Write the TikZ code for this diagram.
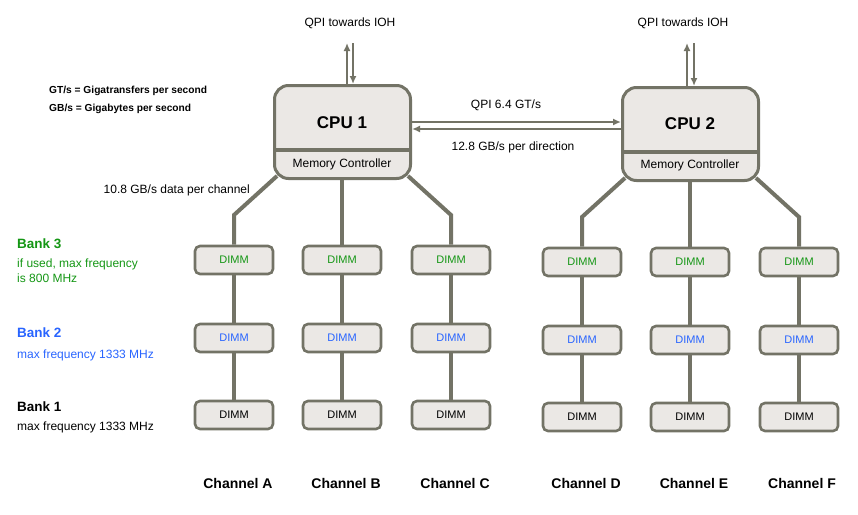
\documentclass[tikz,border=0pt]{standalone}
\usepackage{fontspec}
\setmainfont{Liberation Sans}
\usepackage{tikz}
\usetikzlibrary{arrows.meta, backgrounds, calc, positioning}

\definecolor{boxline}{RGB}{115,115,102}
\definecolor{boxfill}{RGB}{235,232,229}
\definecolor{bankgreen}{RGB}{20,150,20}
\definecolor{bankblue}{RGB}{40,100,255}

\tikzset{
	cpubox/.style={draw=boxline, fill=boxfill, line width=3pt, rounded corners=14pt,
		minimum width=136pt, minimum height=93pt, inner sep=0pt},
	dimmbox/.style={draw=boxline, fill=boxfill, line width=2.6pt, rounded corners=5pt,
		minimum width=78pt, minimum height=28pt, inner sep=0pt, font=\fontsize{11}{12}\selectfont},
	chan/.style={draw=boxline, line width=4pt},
	qpi/.style={draw=boxline, line width=2pt, -{Latex[length=8pt,width=7pt]}},
	txt/.style={inner sep=0pt, font=\fontsize{12}{14}\selectfont},
	chanlbl/.style={inner sep=0pt, font=\fontsize{14}{15}\selectfont\bfseries},
	banklbl/.style={inner sep=0pt, anchor=west, font=\fontsize{13.5}{15}\selectfont\bfseries},
	bankinfo/.style={inner sep=0pt, anchor=west, align=left, font=\fontsize{12}{15}\selectfont},
	legend/.style={inner sep=0pt, anchor=west, font=\fontsize{10.2}{11}\selectfont\bfseries},
}

\begin{document}
\begin{tikzpicture}[x=1pt, y=-1pt]
		\useasboundingbox (0,0) rectangle (858,514);

		% legend
		\node[legend] (leggt) at (49,91) {GT/s = Gigatransfers per second};
		\node[legend] (leggb) at (49,109) {GB/s = Gigabytes per second};

		% the two cpus
		\node[cpubox] (cpu1) at (342.5,132) {};
		\node[cpubox] (cpu2) at (690.5,134) {};
		\foreach \c in {cpu1, cpu2} {
			\draw[draw=boxline, line width=3.5pt] ([yshift=30pt]\c.south west) -- ([yshift=30pt]\c.south east);
		}
		\node[inner sep=0pt, font=\fontsize{17}{18}\selectfont\bfseries] (cpu1lbl) at (342,123) {CPU 1};
		\node[inner sep=0pt, font=\fontsize{17}{18}\selectfont\bfseries] (cpu2lbl) at (690,124) {CPU 2};
		\node[txt] (mc1) at (342,164) {Memory Controller};
		\node[txt] (mc2) at (690,165) {Memory Controller};

		% qpi links
		\node[txt] (ioh1lbl) at (350,23) {QPI towards IOH};
		\node[txt] (ioh2lbl) at (683,23) {QPI towards IOH};
		\coordinate (ioh1up) at (347,43);
		\coordinate (ioh1dn) at (353,43);
		\coordinate (ioh2up) at (687,43);
		\coordinate (ioh2dn) at (694,43);
		\draw[qpi] (ioh1up |- cpu1.north) -- (ioh1up);
		\draw[qpi] (ioh1dn) -- (ioh1dn |- cpu1.north);
		\draw[qpi] (ioh2up |- cpu2.north) -- (ioh2up);
		\draw[qpi] (ioh2dn) -- (ioh2dn |- cpu2.north);
		\draw[qpi] ([yshift=10pt]cpu1.east) -- ([yshift=10pt]cpu1.east -| cpu2.west);
		\draw[qpi] ([yshift=3pt]cpu1.east -| cpu2.west) -- ([yshift=3pt]cpu1.east);
		\node[txt] (qpilbl) at (506,105) {QPI 6.4 GT/s};
		\node[txt] (bwlbl) at (513,147) {12.8 GB/s per direction};
		\node[txt, anchor=east] (chanbw) at (250,190) {10.8 GB/s data per channel};

		% dimms: channel x / name / colour per bank
		\foreach \x/\n in {234/A, 342/B, 451/C} {
			\node[dimmbox, text=bankgreen] (d\n3) at (\x,260) {DIMM};
			\node[dimmbox, text=bankblue] (d\n2) at (\x,338) {DIMM};
			\node[dimmbox] (d\n1) at (\x,415) {DIMM};
		}
		\foreach \x/\n in {582/D, 690/E, 799/F} {
			\node[dimmbox, text=bankgreen] (d\n3) at (\x,262) {DIMM};
			\node[dimmbox, text=bankblue] (d\n2) at (\x,340) {DIMM};
			\node[dimmbox] (d\n1) at (\x,417) {DIMM};
		}
		\foreach \x/\n in {238/A, 346/B, 455/C, 586/D, 694/E, 802/F} {
			\node[chanlbl] (ch\n) at (\x,483) {Channel \n};
		}

		% memory channels
		\begin{scope}[on background layer]
			\draw[chan] ([xshift=4pt,yshift=4pt]cpu1.south west) -- (dA3.north |- 0,215) -- (dA3.north);
			\draw[chan] (cpu1.south -| dB3.north) -- (dB3.north);
			\draw[chan] ([xshift=-4pt,yshift=4pt]cpu1.south east) -- (dC3.north |- 0,215) -- (dC3.north);
			\draw[chan] ([xshift=4pt,yshift=4pt]cpu2.south west) -- (dD3.north |- 0,217) -- (dD3.north);
			\draw[chan] (cpu2.south -| dE3.north) -- (dE3.north);
			\draw[chan] ([xshift=-4pt,yshift=4pt]cpu2.south east) -- (dF3.north |- 0,217) -- (dF3.north);
			\foreach \n in {A, B, C, D, E, F} {
				\draw[chan] (d\n3) -- (d\n2);
				\draw[chan] (d\n2) -- (d\n1);
			}
		\end{scope}

		% banks
		\node[banklbl, text=bankgreen] (bank3) at (17,244) {Bank 3};
		\node[bankinfo, text=bankgreen, anchor=north west] (bank3info) at (17,259) {if used, max frequency\\is 800 MHz};
		\node[banklbl, text=bankblue] (bank2) at (17,333) {Bank 2};
		\node[bankinfo, text=bankblue] (bank2info) at (17,355) {max frequency 1333 MHz};
		\node[banklbl] (bank1) at (17,407) {Bank 1};
		\node[bankinfo] (bank1info) at (17,427) {max frequency 1333 MHz};

	\end{tikzpicture}
\end{document}
